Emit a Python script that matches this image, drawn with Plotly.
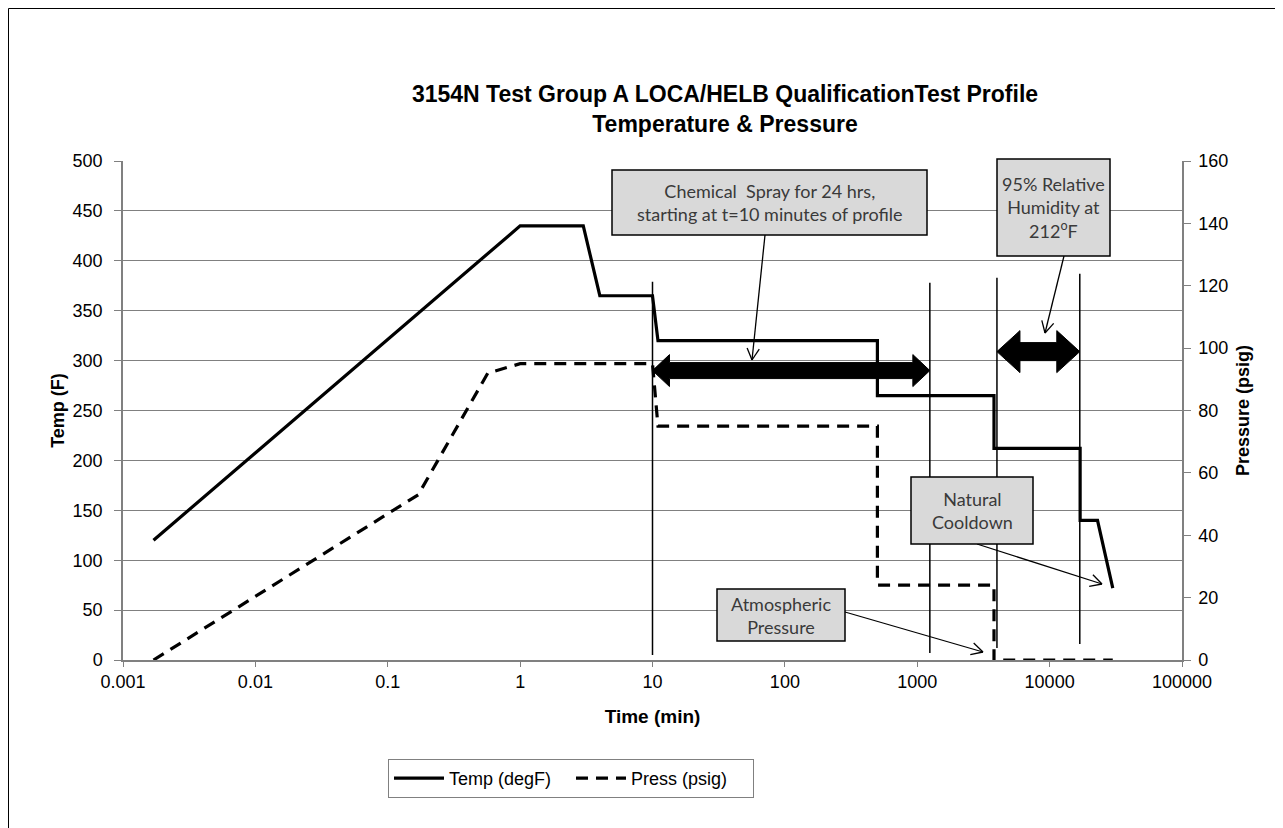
import math
import plotly.graph_objects as go

# ---------------- data ----------------
temp_time = [0.0017, 1, 3, 4, 10, 11, 500, 500, 3800, 3800, 17000, 17000, 23000, 30000]
temp_degF = [120, 435, 435, 365, 365, 320, 320, 265, 265, 212, 212, 140, 140, 72]

press_time = [0.0017, 0.17, 0.57, 1, 10, 11, 500, 500, 3800, 3800, 30000]
press_psig = [0, 53, 92, 95, 95, 75, 75, 24, 24, 0, 0]

x_tick_vals = [0.001, 0.01, 0.1, 1, 10, 100, 1000, 10000, 100000]
x_tick_text = ["0.001", "0.01", "0.1", "1", "10", "100", "1000", "10000", "100000"]

# vertical marker lines: (time, bottom temp, top temp)
marker_times = [10, 1245, 4000, 16900]
marker_bottom = [5, 7, 12, 16]
marker_top = [379, 378, 383, 387]

# double-headed span arrows: (start time, end time, temp level, shaft px, head px, head length px)
span_arrows = [(10, 1245, 290, 16, 32, 17), (4000, 16900, 309, 18, 42, 23)]

# ---------------- geometry helpers ----------------
W, H = 1283, 828
OFF = 8  # page offset of the figure inside the browser window
PL, PR, PT, PB = 123 - OFF, 1182 - OFF, 161 - OFF, 660 - OFF
XMIN, XMAX = -3, 5
TMAX, PMAX = 500, 160


def tx(t):
    return PL + (math.log10(t) - XMIN) / (XMAX - XMIN) * (PR - PL)


def ty(v):
    return PB - v / TMAX * (PB - PT)


def fx(px):
    return (px - PL) / (PR - PL)


def fy(py):
    return (PB - py) / (PB - PT)


def sx(s):  # screen px -> paper
    return fx(s - OFF)


def sy(s):
    return fy(s - OFF)


FONT = "Liberation Sans, Arial, sans-serif"
CFONT = "Lato, Carlito, Calibri, sans-serif"
GRID = "#808080"

fig = go.Figure()
fig.add_trace(go.Scatter(x=temp_time, y=temp_degF, mode="lines", name="Temp (degF)",
                         line=dict(color="black", width=3.2), yaxis="y"))
fig.add_trace(go.Scatter(x=press_time, y=press_psig, mode="lines", name="Press (psig)",
                         line=dict(color="black", width=3.2, dash="12px,8px"), yaxis="y2"))

shapes = []
# figure border (left / top edges visible)
shapes.append(dict(type="rect", xref="paper", yref="paper", x0=fx(0.5), x1=fx(1400),
                   y0=fy(900), y1=fy(0.5), line=dict(color="black", width=1), layer="below"))

# vertical marker lines
for t, b, tp in zip(marker_times, marker_bottom, marker_top):
    shapes.append(dict(type="line", xref="paper", yref="paper", x0=fx(tx(t)), x1=fx(tx(t)),
                       y0=fy(ty(b)), y1=fy(ty(tp)), line=dict(color="black", width=1.5), layer="above"))

# thick double-headed arrows
for t0, t1, lev, sh, hh, hl in span_arrows:
    x0, x1, yc = tx(t0), tx(t1), ty(lev)
    pts = [(x0, yc), (x0 + hl, yc - hh / 2), (x0 + hl, yc - sh / 2), (x1 - hl, yc - sh / 2),
           (x1 - hl, yc - hh / 2), (x1, yc), (x1 - hl, yc + hh / 2), (x1 - hl, yc + sh / 2),
           (x0 + hl, yc + sh / 2), (x0 + hl, yc + hh / 2)]
    path = "M " + " L ".join(f"{fx(x):.5f},{fy(y):.5f}" for x, y in pts) + " Z"
    shapes.append(dict(type="path", xref="paper", yref="paper", path=path,
                       fillcolor="black", line=dict(color="black", width=1), layer="above"))

# callout boxes (screen pixel positions)
callouts = [
    dict(text="Chemical  Spray for 24 hrs,<br>starting at t=10 minutes of profile",
         box=(612, 170, 927, 235), arrow=((765, 235), (752, 360))),
    dict(text="95% Relative<br>Humidity at<br>212<sup>o</sup>F",
         box=(997, 159, 1110, 256), arrow=((1064, 256), (1045, 333))),
    dict(text="Natural<br>Cooldown",
         box=(911, 477, 1033, 544), arrow=((977, 544), (1102, 584))),
    dict(text="Atmospheric<br>Pressure",
         box=(717, 589, 845, 641), arrow=((845, 612), (983, 652))),
]

annotations = []
for c in callouts:
    (ax0, ay0), (ex, ey) = c["arrow"]
    shapes.append(dict(type="line", xref="paper", yref="paper", x0=sx(ax0), y0=sy(ay0),
                       x1=sx(ex), y1=sy(ey), line=dict(color="black", width=1.3), layer="above"))
    L = math.hypot(ax0 - ex, ay0 - ey)
    ux, uy = (ax0 - ex) / L, (ay0 - ey) / L
    for a in (math.radians(28), -math.radians(28)):
        rx = ux * math.cos(a) - uy * math.sin(a)
        ry = ux * math.sin(a) + uy * math.cos(a)
        shapes.append(dict(type="line", xref="paper", yref="paper", x0=sx(ex), y0=sy(ey),
                           x1=sx(ex + 13 * rx), y1=sy(ey + 13 * ry),
                           line=dict(color="black", width=1.3), layer="above"))
    bx0, by0, bx1, by1 = c["box"]
    shapes.append(dict(type="rect", xref="paper", yref="paper", x0=sx(bx0), x1=sx(bx1),
                       y0=sy(by1), y1=sy(by0), fillcolor="#d9d9d9",
                       line=dict(color="black", width=1.5), layer="above"))
    annotations.append(dict(xref="paper", yref="paper", x=sx((bx0 + bx1) / 2), y=sy((by0 + by1) / 2),
                            text=c["text"], showarrow=False, xanchor="center", yanchor="middle",
                            font=dict(family=CFONT, size=18, color="#3a3a3a")))

fig.update_layout(
    width=W, height=H,
    margin=dict(l=PL, r=W - PR, t=PT, b=H - PB, autoexpand=False),
    paper_bgcolor="white", plot_bgcolor="white",
    font=dict(family=FONT, size=18, color="black"),
    title=dict(text="<b>3154N Test Group A LOCA/HELB QualificationTest Profile<br>Temperature & Pressure</b>",
               x=717 / W, xref="container", xanchor="center", y=1 - 94 / H, yref="container",
               yanchor="top", font=dict(family=FONT, size=23, color="black")),
    xaxis=dict(type="log", range=[XMIN, XMAX], tickvals=x_tick_vals, ticktext=x_tick_text,
               showgrid=False, showline=True, linecolor=GRID, linewidth=1.5, ticks="outside",
               ticklen=5, tickcolor=GRID, zeroline=False,
               title=dict(text="<b>Time (min)</b>", standoff=18, font=dict(size=19))),
    yaxis=dict(range=[0, TMAX], dtick=50, showgrid=True, gridcolor=GRID, gridwidth=1,
               showline=True, linecolor=GRID, linewidth=1.5, ticks="outside", ticklen=7,
               tickcolor=GRID, zeroline=False, ticklabelstandoff=8,
               title=dict(text="<b>Temp (F)</b>", standoff=3, font=dict(size=18))),
    yaxis2=dict(range=[0, PMAX], dtick=20, overlaying="y", side="right", showgrid=False,
                showline=True, linecolor=GRID, linewidth=1.5, ticks="outside", ticklen=7,
                tickcolor=GRID, zeroline=False, ticklabelstandoff=4,
                title=dict(text="<b>Pressure (psig)</b>", standoff=9, font=dict(size=18))),
    legend=dict(orientation="h", x=sx(571), xanchor="center", y=sy(759), yanchor="top",
                bordercolor="#808080", borderwidth=1, bgcolor="white",
                itemwidth=50, entrywidth=117, entrywidthmode="pixels",
                font=dict(family=FONT, size=18)),
    shapes=shapes,
    annotations=annotations,
    showlegend=True,
)

fig.write_html("out.html")
